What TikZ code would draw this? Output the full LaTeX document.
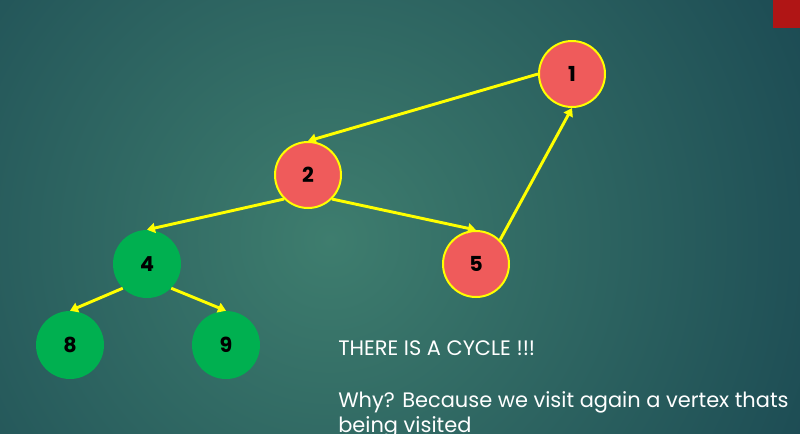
\documentclass[tikz,border=0pt]{standalone}
\usepackage{fontspec}
\setmainfont{Poppins}
\usepackage{tikz}
\usetikzlibrary{arrows.meta}
\definecolor{bgin}{HTML}{3E7D6E}
\definecolor{bgout}{HTML}{1A4852}
\definecolor{vred}{HTML}{EF5B5B}
\definecolor{vgreen}{HTML}{00B050}
\definecolor{vyellow}{HTML}{FFFF00}
\definecolor{corner}{HTML}{B01515}

\begin{document}
\begin{tikzpicture}[x=0.75pt, y=-0.75pt,
        visited/.style={circle, fill=vred, draw=vyellow, line width=1.5pt, minimum size=49.5pt, inner sep=0pt, font=\fontsize{15.5}{18}\selectfont\bfseries},
        finished/.style={circle, fill=vgreen, minimum size=51pt, inner sep=0pt, font=\fontsize{15.5}{18}\selectfont\bfseries},
        edge/.style={draw=vyellow, line width=2.2pt, -{Triangle[length=6pt, width=7.5pt]}},
        slide/.style={text=white, inner sep=0pt, font=\fontsize{15.7}{18.75}\selectfont}]
        % background and corner mark
        \useasboundingbox (0,0) rectangle (800,433);
        \clip (0,0) rectangle (800,433);
        \shade[inner color=bgin, outer color=bgout] (330,240) circle (560);
        \fill[corner] (773,0) rectangle (800,28);
        % vertices
        \node[visited] (n1) at (572,74){1};
        \node[visited] (n2) at (308,175){2};
        \node[visited] (n5) at (476,264){5};
        \node[finished] (n4) at (147,264){4};
        \node[finished] (n8) at (70,345){8};
        \node[finished] (n9) at (226,345){9};
        % traversal
        \draw[edge](n1.west)--(n2.north);
        \draw[edge](n2.south west)--(n4.north);
        \draw[edge](n2.south east)--(n5.north);
        \draw[edge](n5.north east)--(n1.south);
        \draw[edge](n4.south west)--(n8.north);
        \draw[edge](n4.south east)--(n9.north);
        % remarks
        \node[slide, anchor=base west] (cycle) at (338,355){THERE IS A CYCLE !!!};
        \node[slide, anchor=base west, align=left] (why) at (338,432){Why? Because we visit again a vertex thats\\being visited};
    \end{tikzpicture}
\end{document}
